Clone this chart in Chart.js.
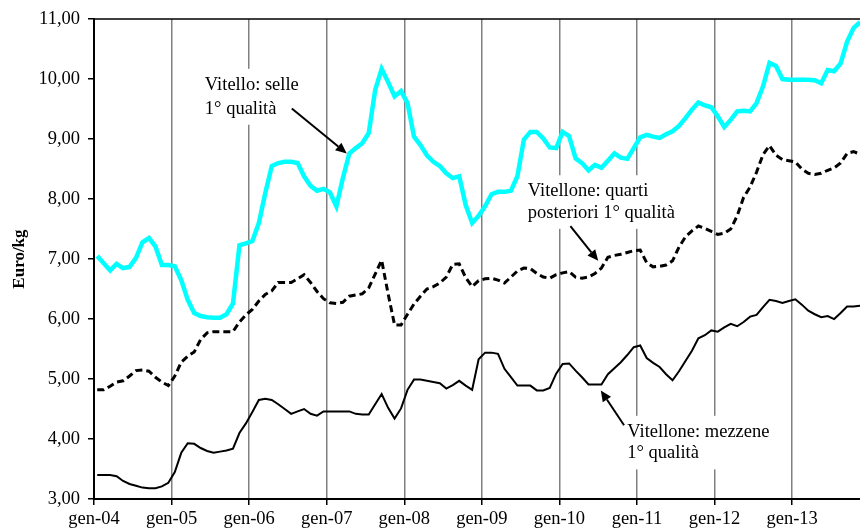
<!DOCTYPE html>
<html>
<head>
<meta charset="utf-8">
<script src="https://cdn.jsdelivr.net/npm/chart.js@4.4.1/dist/chart.umd.min.js"></script>
<style>
  html, body { margin: 0; padding: 0; background: #fff; }
  #wrap { width: 860px; height: 530px; position: relative; }
</style>
</head>
<body>
<div id="wrap"><canvas id="priceChart"></canvas></div>
<script>
// monthly prices, gen-04 .. nov-13 (Euro/kg)
const yearTicks = ["gen-04", "gen-05", "gen-06", "gen-07", "gen-08", "gen-09", "gen-10", "gen-11", "gen-12", "gen-13"];

const selle = [
  7.05, 6.93, 6.81, 6.92, 6.85, 6.87, 7.02, 7.28, 7.35, 7.21, 6.90, 6.90,
  6.88, 6.65, 6.32, 6.10, 6.05, 6.03, 6.02, 6.02, 6.08, 6.26, 7.23, 7.26,
  7.30, 7.60, 8.10, 8.55, 8.60, 8.62, 8.62, 8.60, 8.38, 8.22, 8.14, 8.17,
  8.11, 7.88, 8.35, 8.76, 8.85, 8.93, 9.10, 9.82, 10.17, 9.95, 9.71, 9.80,
  9.60, 9.04, 8.90, 8.73, 8.62, 8.55, 8.43, 8.35, 8.38, 7.90, 7.60, 7.72,
  7.88, 8.08, 8.12, 8.12, 8.14, 8.38, 8.99, 9.12, 9.12, 9.01, 8.86, 8.85,
  9.12, 9.05, 8.68, 8.60, 8.48, 8.57, 8.52, 8.64, 8.76, 8.69, 8.67, 8.85,
  9.03, 9.07, 9.04, 9.02, 9.08, 9.13, 9.22, 9.35, 9.49, 9.61, 9.56, 9.53,
  9.38, 9.20, 9.32, 9.46, 9.47, 9.46, 9.60, 9.88, 10.27, 10.22, 10.00, 9.99,
  9.99, 9.99, 9.99, 9.98, 9.93, 10.15, 10.13, 10.26, 10.62, 10.85, 10.95
];

const quarti = [
  4.82, 4.82, 4.88, 4.95, 4.97, 5.05, 5.14, 5.15, 5.13, 5.03, 4.95, 4.89,
  5.05, 5.28, 5.38, 5.45, 5.66, 5.77, 5.79, 5.79, 5.79, 5.79, 5.95, 6.07,
  6.16, 6.30, 6.41, 6.47, 6.61, 6.61, 6.61, 6.67, 6.74, 6.61, 6.46, 6.34,
  6.27, 6.26, 6.28, 6.38, 6.40, 6.42, 6.52, 6.75, 6.98, 6.42, 5.90, 5.90,
  6.08, 6.25, 6.38, 6.50, 6.54, 6.60, 6.70, 6.91, 6.92, 6.69, 6.54, 6.64,
  6.67, 6.68, 6.65, 6.60, 6.70, 6.80, 6.85, 6.84, 6.76, 6.70, 6.68, 6.74,
  6.77, 6.79, 6.70, 6.68, 6.70, 6.76, 6.85, 7.03, 7.06, 7.08, 7.11, 7.14,
  7.15, 6.94, 6.87, 6.88, 6.90, 6.97, 7.20, 7.37, 7.47, 7.55, 7.51, 7.46,
  7.41, 7.43, 7.50, 7.72, 8.03, 8.20, 8.45, 8.74, 8.89, 8.73, 8.66, 8.64,
  8.62, 8.50, 8.43, 8.41, 8.43, 8.48, 8.52, 8.60, 8.76, 8.79, 8.75
];

const mezzene = [
  3.40, 3.40, 3.40, 3.38, 3.30, 3.25, 3.22, 3.19, 3.18, 3.18, 3.21, 3.27,
  3.45, 3.77, 3.93, 3.92, 3.85, 3.80, 3.77, 3.79, 3.81, 3.84, 4.10, 4.26,
  4.45, 4.65, 4.67, 4.65, 4.58, 4.50, 4.42, 4.46, 4.50, 4.42, 4.39, 4.46,
  4.46, 4.46, 4.46, 4.46, 4.42, 4.41, 4.41, 4.58, 4.75, 4.52, 4.34, 4.51,
  4.82, 4.99, 4.99, 4.97, 4.95, 4.93, 4.84, 4.90, 4.97, 4.89, 4.82, 5.33,
  5.44, 5.44, 5.42, 5.17, 5.03, 4.89, 4.89, 4.89, 4.81, 4.81, 4.85, 5.09,
  5.25, 5.26, 5.14, 5.03, 4.91, 4.91, 4.91, 5.08, 5.18, 5.28, 5.40, 5.53,
  5.56, 5.35, 5.27, 5.20, 5.08, 4.98, 5.13, 5.30, 5.47, 5.68, 5.73, 5.81,
  5.79, 5.86, 5.92, 5.88, 5.95, 6.04, 6.07, 6.20, 6.32, 6.30, 6.27, 6.30,
  6.33, 6.24, 6.14, 6.08, 6.03, 6.05, 6.00, 6.10, 6.21, 6.21, 6.22
];

// labels with arrows, placed in data units (month index, Euro/kg)
const notes = [
  { lines: ["Vitello: selle", "1° qualità"], x: 16.65, y1: 9.905, y2: 9.506, from: [30.1, 9.51], to: [38.6, 8.76] },
  { lines: ["Vitellone: quarti", "posteriori 1° qualità"], x: 66.6, y1: 8.13, y2: 7.77, from: [73.2, 7.55], to: [77.5, 6.97] },
  { lines: ["Vitellone: mezzene", "1° qualità"], x: 82.0, y1: 4.12, y2: 3.76, from: [81.5, 4.23], to: [77.9, 4.81] }
];

const serif = '"Liberation Serif", "Times New Roman", serif';
Chart.defaults.font.family = serif;
Chart.defaults.color = "#000";

const toPoints = arr => arr.map((v, i) => ({ x: i, y: v }));

const notesPlugin = {
  id: "notes",
  beforeDatasetsDraw(chart) {
    const { ctx, scales: { x, y } } = chart;
    ctx.save();
    ctx.font = "18.5px " + serif;
    ctx.textBaseline = "middle";
    notes.forEach(n => {
      const px = x.getPixelForValue(n.x);
      const py1 = y.getPixelForValue(n.y1);
      const py2 = y.getPixelForValue(n.y2);
      const w = Math.max(...n.lines.map(t => ctx.measureText(t).width));
      ctx.fillStyle = "#fff";
      ctx.fillRect(px - 4, py1 - 16, w + 8, py2 - py1 + 32);
      ctx.fillStyle = "#000";
      ctx.fillText(n.lines[0], px, py1);
      ctx.fillText(n.lines[1], px, py2);

      const x0 = x.getPixelForValue(n.from[0]), y0 = y.getPixelForValue(n.from[1]);
      const x1 = x.getPixelForValue(n.to[0]), y1 = y.getPixelForValue(n.to[1]);
      const ang = Math.atan2(y1 - y0, x1 - x0);
      const len = 11, half = 5;
      const bx = x1 - len * Math.cos(ang), by = y1 - len * Math.sin(ang);
      ctx.strokeStyle = "#000";
      ctx.lineWidth = 2;
      ctx.beginPath();
      ctx.moveTo(x0, y0);
      ctx.lineTo(bx, by);
      ctx.stroke();
      ctx.beginPath();
      ctx.moveTo(x1, y1);
      ctx.lineTo(bx + half * Math.sin(ang), by - half * Math.cos(ang));
      ctx.lineTo(bx - half * Math.sin(ang), by + half * Math.cos(ang));
      ctx.closePath();
      ctx.fill();
    });
    ctx.restore();
  },
  afterDraw(chart) {
    // top frame line
    const { ctx, chartArea } = chart;
    ctx.save();
    ctx.strokeStyle = "#000";
    ctx.lineWidth = 1.5;
    ctx.beginPath();
    ctx.moveTo(chartArea.left, chartArea.top);
    ctx.lineTo(chartArea.right, chartArea.top);
    ctx.stroke();
    ctx.restore();
  }
};

new Chart(document.getElementById("priceChart"), {
  type: "line",
  data: {
    datasets: [
      {
        label: "Vitello: selle 1° qualità",
        data: toPoints(selle),
        borderColor: "#00ffff",
        borderWidth: 4.5,
        pointRadius: 0,
        tension: 0
      },
      {
        label: "Vitellone: quarti posteriori 1° qualità",
        data: toPoints(quarti),
        borderColor: "#000",
        borderWidth: 3,
        borderDash: [7, 4],
        pointRadius: 0,
        tension: 0
      },
      {
        label: "Vitellone: mezzene 1° qualità",
        data: toPoints(mezzene),
        borderColor: "#000",
        borderWidth: 2,
        pointRadius: 0,
        tension: 0
      }
    ]
  },
  options: {
    responsive: true,
    maintainAspectRatio: false,
    animation: false,
    layout: { padding: { top: 17, right: 0, left: 0, bottom: 0 } },
    plugins: {
      legend: { display: false },
      tooltip: { enabled: false }
    },
    scales: {
      x: {
        type: "linear",
        min: -0.5,
        max: 118,
        afterBuildTicks: axis => {
          axis.ticks = yearTicks.map((_, k) => ({ value: k * 12 - 0.5 }));
        },
        afterFit: axis => { axis.height = 31; },
        ticks: {
          autoSkip: false,
          maxRotation: 0,
          padding: 3,
          font: { size: 18.5 },
          callback: (value, index) => yearTicks[index]
        },
        grid: {
          color: "#808080",
          lineWidth: 1.5,
          tickColor: "#000",
          tickLength: 6
        },
        border: { color: "#000", width: 2 }
      },
      y: {
        min: 3,
        max: 11,
        afterFit: axis => { axis.width = 94; },
        ticks: {
          stepSize: 1,
          padding: 8,
          font: { size: 18.5 },
          callback: v => v.toFixed(2).replace(".", ",")
        },
        grid: {
          drawOnChartArea: false,
          tickColor: "#000",
          tickLength: 6,
          lineWidth: 1.5
        },
        border: { color: "#000", width: 2 },
        title: {
          display: true,
          text: "Euro/kg",
          font: { size: 17, weight: "bold" },
          padding: { top: 9, bottom: 4 }
        }
      }
    }
  },
  plugins: [notesPlugin]
});
</script>
</body>
</html>
